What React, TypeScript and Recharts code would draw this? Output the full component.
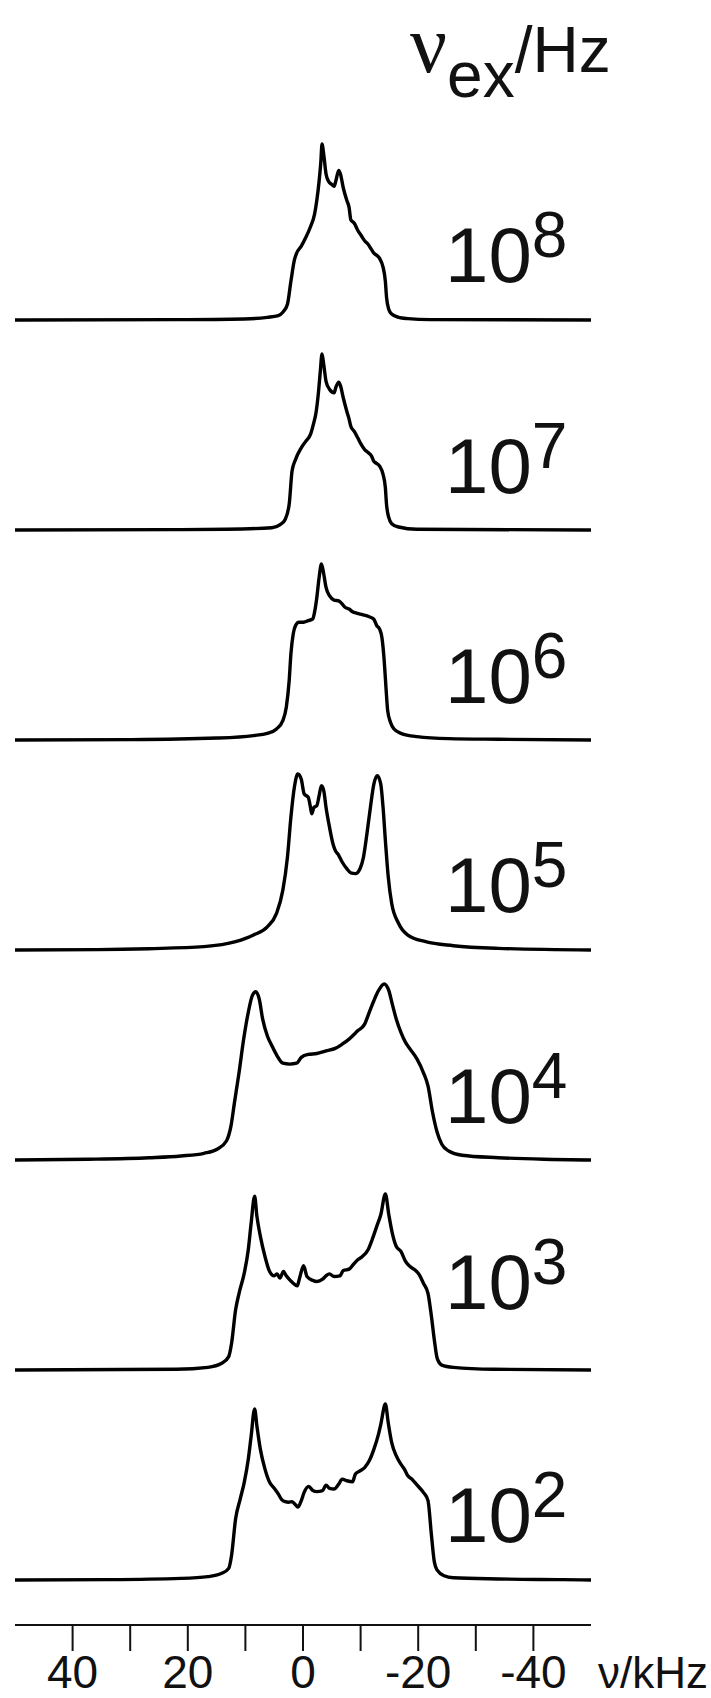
import React from "react";
import { LineChart, Line, XAxis, YAxis } from "recharts";

// Simulated 2H NMR line shapes, one per exchange rate (kHz, normalised intensity)
const S_1E8: [number, number][] = [
  [50, 0], [22, 0.002], [10.2, 0.006], [6.2, 0.015], [4.3, 0.025], [3.5, 0.044],
  [2.7, 0.09], [2.1, 0.22], [1.5, 0.34], [1.1, 0.38], [0.3, 0.42], [-0.5, 0.47],
  [-1.3, 0.53], [-2.0, 0.6], [-2.4, 0.68], [-2.8, 0.79], [-3.1, 0.9], [-3.3, 1.0],
  [-3.6, 0.94], [-4.0, 0.83], [-4.4, 0.79], [-5.0, 0.77], [-5.4, 0.76], [-5.7, 0.79],
  [-6.2, 0.85], [-6.5, 0.83], [-7.0, 0.75], [-7.6, 0.68], [-8.0, 0.64], [-8.3, 0.57],
  [-8.9, 0.55], [-9.5, 0.51], [-10.1, 0.48], [-10.7, 0.45], [-11.3, 0.43], [-11.9, 0.4],
  [-12.3, 0.38], [-12.7, 0.37], [-13.3, 0.35], [-13.9, 0.3], [-14.3, 0.22], [-14.5, 0.13],
  [-14.9, 0.06], [-15.4, 0.034], [-16.6, 0.015], [-18.2, 0.008], [-22.1, 0.002], [-50, 0],
];

const S_1E7: [number, number][] = [
  [50, 0], [23, 0.002], [13.3, 0.004], [5.4, 0.013], [3.9, 0.032], [3.1, 0.06],
  [2.4, 0.146], [1.9, 0.335], [1.3, 0.4], [0.3, 0.467], [-0.5, 0.505], [-1.3, 0.543],
  [-1.8, 0.6], [-2.3, 0.675], [-2.7, 0.788], [-3.0, 0.9], [-3.3, 1.0], [-3.6, 0.94],
  [-4.0, 0.845], [-4.6, 0.8], [-5.4, 0.78], [-5.7, 0.81], [-6.2, 0.84], [-6.5, 0.82],
  [-7.0, 0.75], [-7.6, 0.675], [-8.0, 0.63], [-8.3, 0.59], [-8.9, 0.56], [-9.5, 0.524],
  [-10.1, 0.486], [-10.7, 0.457], [-11.3, 0.44], [-11.9, 0.42], [-12.3, 0.39], [-12.7, 0.38],
  [-13.3, 0.363], [-13.9, 0.316], [-14.3, 0.24], [-14.5, 0.146], [-14.9, 0.07], [-15.4, 0.036],
  [-16.6, 0.017], [-19.8, 0.004], [-50, 0],
];

const S_1E6: [number, number][] = [
  [50, 0], [29.8, 0.002], [14.9, 0.011], [8.6, 0.025], [6.2, 0.038], [4.6, 0.063],
  [3.5, 0.11], [2.9, 0.186], [2.4, 0.337], [2.1, 0.489], [1.7, 0.602], [1.3, 0.65],
  [0.7, 0.669], [-0.1, 0.669], [-0.9, 0.678], [-1.7, 0.688], [-2.0, 0.725], [-2.4, 0.81],
  [-2.8, 0.924], [-3.2, 1.0], [-3.6, 0.943], [-4.0, 0.867], [-4.6, 0.82], [-5.4, 0.795],
  [-6.2, 0.79], [-6.8, 0.773], [-7.3, 0.754], [-8.0, 0.744], [-8.6, 0.729], [-9.4, 0.72],
  [-10.3, 0.712], [-11.5, 0.7], [-12.3, 0.686], [-12.8, 0.65], [-13.3, 0.63], [-13.7, 0.583],
  [-14.1, 0.45], [-14.4, 0.3], [-14.7, 0.167], [-15.2, 0.1], [-15.8, 0.0625], [-17.0, 0.038],
  [-19.8, 0.019], [-25.3, 0.0076], [-33.9, 0.004], [-50, 0],
];

const S_1E5: [number, number][] = [
  [50, 0], [35.7, 0.002], [26.7, 0.0075], [17.2, 0.019], [11.7, 0.047], [8.6, 0.085],
  [6.2, 0.132], [4.6, 0.208], [3.5, 0.34], [2.7, 0.528], [2.1, 0.755], [1.5, 0.925],
  [0.9, 1.0], [0.3, 0.97], [-0.2, 0.887], [-0.9, 0.868], [-1.3, 0.81], [-1.5, 0.774],
  [-1.9, 0.81], [-2.4, 0.82], [-2.8, 0.877], [-3.2, 0.934], [-3.6, 0.906], [-4.0, 0.81],
  [-4.6, 0.698], [-5.2, 0.604], [-5.6, 0.566], [-6.2, 0.538], [-6.8, 0.5], [-7.6, 0.462],
  [-8.3, 0.438], [-9.1, 0.434], [-9.9, 0.462], [-10.5, 0.528], [-11.1, 0.66], [-11.7, 0.81],
  [-12.3, 0.943], [-12.9, 0.99], [-13.5, 0.943], [-13.9, 0.81], [-14.3, 0.623], [-14.8, 0.415],
  [-15.4, 0.264], [-16.6, 0.151], [-18.2, 0.085], [-21.3, 0.047], [-26.1, 0.0245],
  [-33.9, 0.0094], [-50, 0],
];

const S_1E4: [number, number][] = [
  [50, 0], [37.3, 0.004], [26.7, 0.013], [21.2, 0.023], [17.2, 0.038], [14.9, 0.061],
  [13.3, 0.108], [12.5, 0.194], [11.9, 0.326], [11.1, 0.497], [10.3, 0.687], [9.5, 0.839],
  [8.8, 0.934], [8.2, 0.956], [7.6, 0.915], [7.0, 0.8], [6.2, 0.706], [5.4, 0.649],
  [4.5, 0.592], [3.5, 0.55], [2.3, 0.545], [1.1, 0.55], [0.3, 0.583], [-0.9, 0.6],
  [-2.4, 0.605], [-4.0, 0.62], [-5.6, 0.634], [-6.8, 0.658], [-8.0, 0.687], [-9.5, 0.734],
  [-10.7, 0.772], [-11.5, 0.839], [-12.3, 0.905], [-13.1, 0.962], [-14.1, 1.0], [-14.9, 0.962],
  [-15.5, 0.886], [-16.2, 0.8], [-17.0, 0.725], [-17.8, 0.668], [-18.6, 0.63], [-19.8, 0.573],
  [-20.9, 0.497], [-21.7, 0.421], [-22.5, 0.27], [-23.3, 0.156], [-24.1, 0.089], [-25.3, 0.051],
  [-27.6, 0.027], [-33.9, 0.013], [-41.8, 0.004], [-50, 0],
];

const S_1E3: [number, number][] = [
  [50, 0], [22.0, 0.004], [16.5, 0.015], [14.1, 0.038], [12.9, 0.076], [12.4, 0.152],
  [11.7, 0.342], [11.1, 0.436], [10.2, 0.55], [9.5, 0.683], [9.0, 0.835], [8.4, 0.987],
  [8.0, 0.873], [7.4, 0.759], [6.6, 0.645], [5.8, 0.56], [5.0, 0.535], [4.5, 0.546],
  [4.0, 0.522], [3.4, 0.56], [2.9, 0.535], [2.3, 0.512], [1.7, 0.493], [1.0, 0.478],
  [0.6, 0.522], [-0.1, 0.592], [-0.7, 0.531], [-1.7, 0.509], [-2.4, 0.503], [-3.4, 0.516],
  [-4.0, 0.535], [-4.6, 0.546], [-5.4, 0.531], [-6.4, 0.535], [-7.0, 0.565], [-8.0, 0.573],
  [-8.7, 0.598], [-9.5, 0.626], [-10.3, 0.645], [-11.3, 0.683], [-12.0, 0.74], [-12.8, 0.816],
  [-13.5, 0.882], [-14.3, 1.0], [-14.9, 0.882], [-15.5, 0.778], [-16.2, 0.702], [-17.0, 0.674],
  [-17.8, 0.617], [-18.6, 0.588], [-19.4, 0.569], [-20.2, 0.541], [-20.9, 0.493], [-21.7, 0.436],
  [-22.3, 0.304], [-22.8, 0.171], [-23.3, 0.066], [-24.1, 0.028], [-26.1, 0.015], [-33.1, 0.004],
  [-50, 0],
];

const S_1E2: [number, number][] = [
  [50, 0], [33.8, 0.002], [21.2, 0.009], [16.5, 0.019], [14.1, 0.038], [12.9, 0.066],
  [12.4, 0.141], [11.7, 0.348], [10.9, 0.46], [10.2, 0.555], [9.5, 0.686], [9.0, 0.818],
  [8.4, 0.972], [8.0, 0.874], [7.4, 0.742], [6.6, 0.63], [5.8, 0.555], [5.0, 0.521],
  [4.3, 0.489], [3.7, 0.457], [3.1, 0.445], [2.5, 0.442], [1.9, 0.445], [1.3, 0.427],
  [0.9, 0.414], [0.3, 0.451], [-0.2, 0.498], [-1.0, 0.532], [-1.7, 0.508], [-2.4, 0.502],
  [-3.4, 0.508], [-4.0, 0.539], [-4.6, 0.521], [-5.4, 0.517], [-6.2, 0.545], [-6.8, 0.573],
  [-7.6, 0.564], [-8.6, 0.558], [-9.1, 0.602], [-9.9, 0.62], [-10.7, 0.639], [-11.5, 0.677],
  [-12.3, 0.742], [-13.1, 0.827], [-13.5, 0.883], [-14.3, 1.0], [-14.8, 0.893], [-15.4, 0.78],
  [-16.2, 0.705], [-17.0, 0.658], [-17.6, 0.63], [-18.2, 0.592], [-19.0, 0.57], [-19.9, 0.536],
  [-20.9, 0.498], [-21.7, 0.451], [-22.3, 0.254], [-22.8, 0.103], [-23.3, 0.056], [-24.5, 0.024],
  [-26.1, 0.013], [-33.9, 0.006], [-45.0, 0.002], [-50, 0],
];

const SPECTRA = [S_1E8, S_1E7, S_1E6, S_1E5, S_1E4, S_1E3, S_1E2];
const EXPONENTS = ["8", "7", "6", "5", "4", "3", "2"];
const TICK_VALUES = [40, 30, 20, 10, 0, -10, -20, -30, -40];
const LABELED_TICKS = [40, 20, 0, -20, -40];

// layout
const W = 711;
const H = 1698;
const ROW_TOP = 120;
const ROW_H = 210;
const MARGIN = { top: 24, right: 120, bottom: 10, left: 15 };
const AXIS_TOP = 1600;
const labelLift = [38, 37, 37, 38, 37, 61, 38];

const FONT = '"Liberation Sans", Arial, sans-serif';

function AxisTick({ x, y, payload }: any) {
  const v = payload.value;
  if (!LABELED_TICKS.includes(v)) return null;
  return (
    <text x={x} y={y + 37} textAnchor="middle" fontFamily={FONT} fontSize={46} fill="#111">
      {v}
    </text>
  );
}

export default function App() {
  return (
    <div style={{ position: "absolute", left: 0, top: 0, width: W, height: H, background: "#fff" }}>
      {SPECTRA.map((s, i) => (
        <div key={i} style={{ position: "absolute", left: 0, top: ROW_TOP + i * ROW_H }}>
          <LineChart width={W} height={ROW_H} data={s.map(([f, v]) => ({ f, v }))} margin={MARGIN}>
            <XAxis dataKey="f" type="number" domain={[-50, 50]} reversed hide />
            <YAxis domain={[0, 1]} hide />
            <Line
              dataKey="v"
              type="monotone"
              stroke="#000"
              strokeWidth={3.4}
              strokeLinejoin="round"
              dot={false}
              isAnimationActive={false}
            />
          </LineChart>
        </div>
      ))}

      <div style={{ position: "absolute", left: 0, top: AXIS_TOP }}>
        <LineChart
          width={W}
          height={98}
          data={TICK_VALUES.map((f) => ({ f }))}
          margin={{ top: 24, right: MARGIN.right, bottom: 0, left: MARGIN.left }}
        >
          <XAxis
            dataKey="f"
            type="number"
            domain={[-50, 50]}
            reversed
            ticks={TICK_VALUES}
            interval={0}
            height={73}
            tickSize={26}
            tickMargin={0}
            axisLine={{ stroke: "#111", strokeWidth: 2 }}
            tickLine={{ stroke: "#111", strokeWidth: 2 }}
            tick={<AxisTick />}
          />
          <YAxis domain={[0, 1]} hide />
        </LineChart>
      </div>

      <svg
        width={W}
        height={H}
        style={{ position: "absolute", left: 0, top: 0, pointerEvents: "none" }}
      >
        <text x={410} y={72} fontFamily={FONT} fill="#111">
          <tspan fontFamily='"Liberation Serif", serif' fontSize={82}>ν</tspan>
          <tspan fontSize={64} dy={25}>ex</tspan>
          <tspan fontSize={64} dy={-25}>/Hz</tspan>
        </text>

        {EXPONENTS.map((e, i) => {
          const base = ROW_TOP + i * ROW_H + ROW_H - MARGIN.bottom;
          return (
            <text key={e} x={445} y={base - labelLift[i]} fontFamily={FONT} fontSize={78} fill="#111">
              10
              <tspan fontSize={64} dy={-25}>{e}</tspan>
            </text>
          );
        })}

        <text x={598} y={1688} fontFamily={FONT} fontSize={44} fill="#111">
          ν/kHz
        </text>
      </svg>
    </div>
  );
}
